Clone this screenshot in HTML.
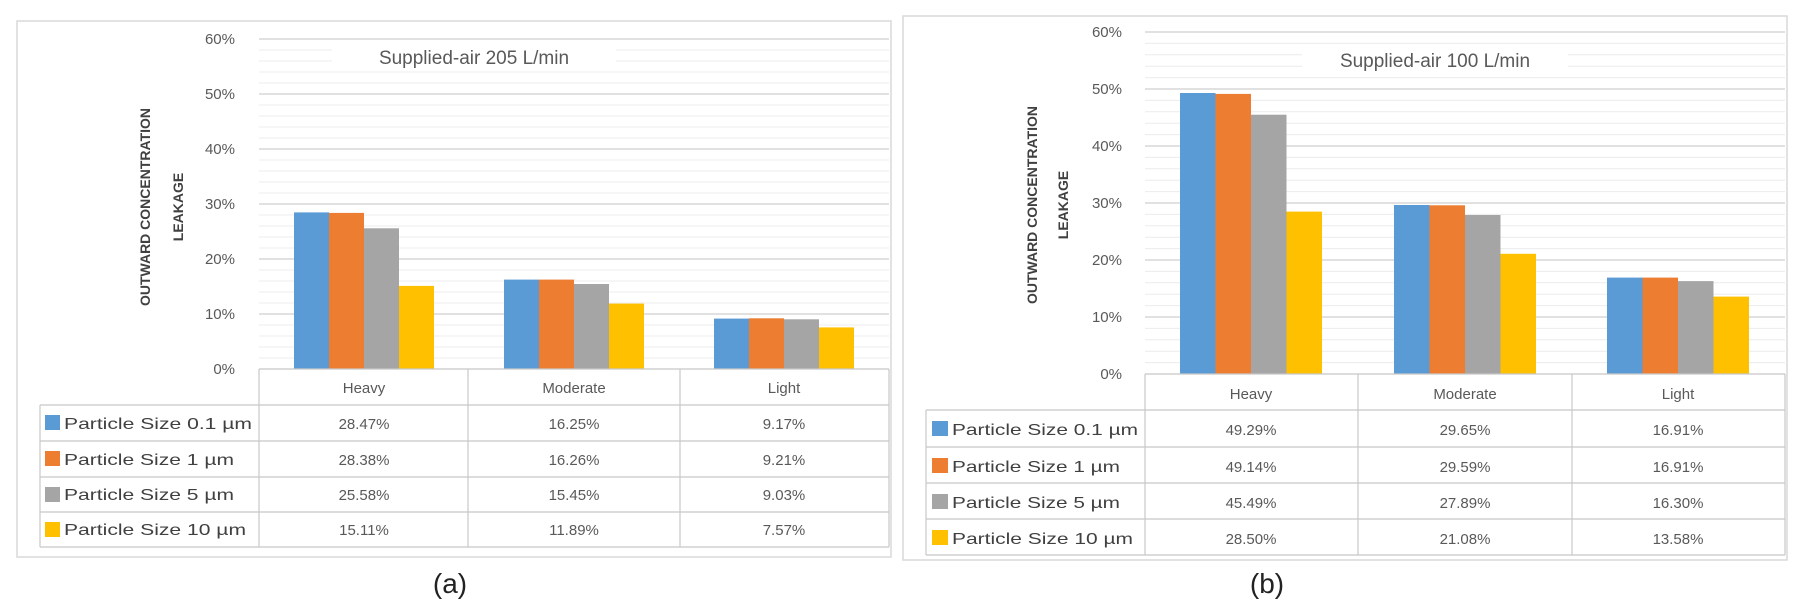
<!DOCTYPE html>
<html><head><meta charset="utf-8"><style>
html,body{margin:0;padding:0;background:#fff}
svg{display:block}
text{font-family:"Liberation Sans",sans-serif;fill:#595959}
.yl{font-size:15px;text-anchor:end}
.tv{font-size:15px;text-anchor:middle}
.lg{font-size:16px;fill:#404040}
.at{font-size:14px;font-weight:bold;text-anchor:middle;fill:#404040}
.tt{font-size:19px;text-anchor:middle}
.cap{font-size:28px;text-anchor:middle;fill:#222}
</style></head><body>
<svg width="1800" height="612" viewBox="0 0 1800 612" xmlns="http://www.w3.org/2000/svg">
<rect x="17" y="21" width="874" height="536" fill="none" stroke="#d9d9d9" stroke-width="1.5"/>
<rect x="903" y="16" width="884" height="544" fill="none" stroke="#d9d9d9" stroke-width="1.5"/>

<g id="L">
<!-- minor grid left: 0% at 369, 5.5px per % -->
<g stroke="#ececec" stroke-width="1">
<line x1="259" x2="889" y1="358" y2="358"/><line x1="259" x2="889" y1="347" y2="347"/><line x1="259" x2="889" y1="336" y2="336"/><line x1="259" x2="889" y1="325" y2="325"/>
<line x1="259" x2="889" y1="303" y2="303"/><line x1="259" x2="889" y1="292" y2="292"/><line x1="259" x2="889" y1="281" y2="281"/><line x1="259" x2="889" y1="270" y2="270"/>
<line x1="259" x2="889" y1="248" y2="248"/><line x1="259" x2="889" y1="237" y2="237"/><line x1="259" x2="889" y1="226" y2="226"/><line x1="259" x2="889" y1="215" y2="215"/>
<line x1="259" x2="889" y1="193" y2="193"/><line x1="259" x2="889" y1="182" y2="182"/><line x1="259" x2="889" y1="171" y2="171"/><line x1="259" x2="889" y1="160" y2="160"/>
<line x1="259" x2="889" y1="138" y2="138"/><line x1="259" x2="889" y1="127" y2="127"/><line x1="259" x2="889" y1="116" y2="116"/><line x1="259" x2="889" y1="105" y2="105"/>
<line x1="259" x2="889" y1="83" y2="83"/><line x1="259" x2="889" y1="72" y2="72"/><line x1="259" x2="889" y1="61" y2="61"/><line x1="259" x2="889" y1="50" y2="50"/>
</g>
<g stroke="#cfcfcf" stroke-width="1.3">
<line x1="259" x2="889" y1="39" y2="39"/><line x1="259" x2="889" y1="94" y2="94"/><line x1="259" x2="889" y1="149" y2="149"/><line x1="259" x2="889" y1="204" y2="204"/><line x1="259" x2="889" y1="259" y2="259"/><line x1="259" x2="889" y1="314" y2="314"/>
</g>
<rect x="332" y="43" width="284" height="28" fill="#fff"/>
<text class="tt" x="474" y="64">Supplied-air 205 L/min</text>
<g class="yl">
<text class="yl" x="235" y="44">60%</text><text class="yl" x="235" y="99">50%</text><text class="yl" x="235" y="154">40%</text><text class="yl" x="235" y="209">30%</text><text class="yl" x="235" y="264">20%</text><text class="yl" x="235" y="319">10%</text><text class="yl" x="235" y="374">0%</text>
</g>
<text class="at" transform="translate(150,207) rotate(-90)">OUTWARD CONCENTRATION</text>
<text class="at" transform="translate(183,207) rotate(-90)">LEAKAGE</text>
<!-- bars -->
<rect x="294" y="212.4" width="35" height="156.6" fill="#5b9bd5"/>
<rect x="329" y="212.9" width="35" height="156.1" fill="#ed7d31"/>
<rect x="364" y="228.3" width="35" height="140.7" fill="#a5a5a5"/>
<rect x="399" y="285.9" width="35" height="83.1" fill="#ffc000"/>
<rect x="504" y="279.6" width="35" height="89.4" fill="#5b9bd5"/>
<rect x="539" y="279.6" width="35" height="89.4" fill="#ed7d31"/>
<rect x="574" y="284" width="35" height="85" fill="#a5a5a5"/>
<rect x="609" y="303.6" width="35" height="65.4" fill="#ffc000"/>
<rect x="714" y="318.6" width="35" height="50.4" fill="#5b9bd5"/>
<rect x="749" y="318.3" width="35" height="50.7" fill="#ed7d31"/>
<rect x="784" y="319.3" width="35" height="49.7" fill="#a5a5a5"/>
<rect x="819" y="327.4" width="35" height="41.6" fill="#ffc000"/>
<!-- table -->
<g stroke="#c8c8c8" stroke-width="1.2" fill="none">
<line x1="259" x2="889" y1="369" y2="369"/>
<line x1="40" x2="889" y1="405" y2="405"/><line x1="40" x2="889" y1="441" y2="441"/><line x1="40" x2="889" y1="477" y2="477"/><line x1="40" x2="889" y1="512" y2="512"/><line x1="40" x2="889" y1="547" y2="547"/>
<line x1="40" x2="40" y1="405" y2="547"/><line x1="259" x2="259" y1="369" y2="547"/><line x1="468" x2="468" y1="369" y2="547"/><line x1="680" x2="680" y1="369" y2="547"/><line x1="889" x2="889" y1="369" y2="547"/>
</g>
<text class="tv" x="364" y="393">Heavy</text><text class="tv" x="574" y="393">Moderate</text><text class="tv" x="784" y="393">Light</text>
<rect x="45" y="415" width="15" height="15" fill="#5b9bd5"/><rect x="45" y="451" width="15" height="15" fill="#ed7d31"/><rect x="45" y="487" width="15" height="15" fill="#a5a5a5"/><rect x="45" y="522" width="15" height="15" fill="#ffc000"/>
<text class="lg" x="64" y="429" textLength="188" lengthAdjust="spacingAndGlyphs">Particle Size 0.1 µm</text>
<text class="lg" x="64" y="465" textLength="170" lengthAdjust="spacingAndGlyphs">Particle Size 1 µm</text>
<text class="lg" x="64" y="500" textLength="170" lengthAdjust="spacingAndGlyphs">Particle Size 5 µm</text>
<text class="lg" x="64" y="535" textLength="182" lengthAdjust="spacingAndGlyphs">Particle Size 10 µm</text>
<text class="tv" x="364" y="429">28.47%</text><text class="tv" x="574" y="429">16.25%</text><text class="tv" x="784" y="429">9.17%</text>
<text class="tv" x="364" y="465">28.38%</text><text class="tv" x="574" y="465">16.26%</text><text class="tv" x="784" y="465">9.21%</text>
<text class="tv" x="364" y="500">25.58%</text><text class="tv" x="574" y="500">15.45%</text><text class="tv" x="784" y="500">9.03%</text>
<text class="tv" x="364" y="535">15.11%</text><text class="tv" x="574" y="535">11.89%</text><text class="tv" x="784" y="535">7.57%</text>
</g>
<text class="cap" x="450" y="593">(a)</text>

<g id="R">
<!-- 0% at 374, 5.7 px per % -->
<g stroke="#ececec" stroke-width="1">
<line x1="1145" x2="1785" y1="362.6" y2="362.6"/><line x1="1145" x2="1785" y1="351.2" y2="351.2"/><line x1="1145" x2="1785" y1="339.8" y2="339.8"/><line x1="1145" x2="1785" y1="328.4" y2="328.4"/>
<line x1="1145" x2="1785" y1="305.6" y2="305.6"/><line x1="1145" x2="1785" y1="294.2" y2="294.2"/><line x1="1145" x2="1785" y1="282.8" y2="282.8"/><line x1="1145" x2="1785" y1="271.4" y2="271.4"/>
<line x1="1145" x2="1785" y1="248.6" y2="248.6"/><line x1="1145" x2="1785" y1="237.2" y2="237.2"/><line x1="1145" x2="1785" y1="225.8" y2="225.8"/><line x1="1145" x2="1785" y1="214.4" y2="214.4"/>
<line x1="1145" x2="1785" y1="191.6" y2="191.6"/><line x1="1145" x2="1785" y1="180.2" y2="180.2"/><line x1="1145" x2="1785" y1="168.8" y2="168.8"/><line x1="1145" x2="1785" y1="157.4" y2="157.4"/>
<line x1="1145" x2="1785" y1="134.6" y2="134.6"/><line x1="1145" x2="1785" y1="123.2" y2="123.2"/><line x1="1145" x2="1785" y1="111.8" y2="111.8"/><line x1="1145" x2="1785" y1="100.4" y2="100.4"/>
<line x1="1145" x2="1785" y1="77.6" y2="77.6"/><line x1="1145" x2="1785" y1="66.2" y2="66.2"/><line x1="1145" x2="1785" y1="54.8" y2="54.8"/><line x1="1145" x2="1785" y1="43.4" y2="43.4"/>
</g>
<g stroke="#cfcfcf" stroke-width="1.3">
<line x1="1145" x2="1785" y1="32" y2="32"/><line x1="1145" x2="1785" y1="89" y2="89"/><line x1="1145" x2="1785" y1="146" y2="146"/><line x1="1145" x2="1785" y1="203" y2="203"/><line x1="1145" x2="1785" y1="260" y2="260"/><line x1="1145" x2="1785" y1="317" y2="317"/>
</g>
<rect x="1302" y="46" width="266" height="28" fill="#fff"/>
<text class="tt" x="1435" y="67">Supplied-air 100 L/min</text>
<text class="yl" x="1122" y="37">60%</text><text class="yl" x="1122" y="94">50%</text><text class="yl" x="1122" y="151">40%</text><text class="yl" x="1122" y="208">30%</text><text class="yl" x="1122" y="265">20%</text><text class="yl" x="1122" y="322">10%</text><text class="yl" x="1122" y="379">0%</text>
<text class="at" transform="translate(1037,205) rotate(-90)">OUTWARD CONCENTRATION</text>
<text class="at" transform="translate(1068,205) rotate(-90)">LEAKAGE</text>
<rect x="1180" y="93.0" width="35.5" height="281" fill="#5b9bd5"/>
<rect x="1215.5" y="93.9" width="35.5" height="280.1" fill="#ed7d31"/>
<rect x="1251" y="114.7" width="35.5" height="259.3" fill="#a5a5a5"/>
<rect x="1286.5" y="211.6" width="35.5" height="162.4" fill="#ffc000"/>
<rect x="1394" y="205.0" width="35.5" height="169" fill="#5b9bd5"/>
<rect x="1429.5" y="205.3" width="35.5" height="168.7" fill="#ed7d31"/>
<rect x="1465" y="215.0" width="35.5" height="159" fill="#a5a5a5"/>
<rect x="1500.5" y="253.8" width="35.5" height="120.2" fill="#ffc000"/>
<rect x="1607" y="277.6" width="35.5" height="96.4" fill="#5b9bd5"/>
<rect x="1642.5" y="277.6" width="35.5" height="96.4" fill="#ed7d31"/>
<rect x="1678" y="281.1" width="35.5" height="92.9" fill="#a5a5a5"/>
<rect x="1713.5" y="296.6" width="35.5" height="77.4" fill="#ffc000"/>
<g stroke="#c8c8c8" stroke-width="1.2" fill="none">
<line x1="1145" x2="1785" y1="374" y2="374"/>
<line x1="926" x2="1785" y1="410" y2="410"/><line x1="926" x2="1785" y1="447" y2="447"/><line x1="926" x2="1785" y1="483" y2="483"/><line x1="926" x2="1785" y1="519" y2="519"/><line x1="926" x2="1785" y1="555" y2="555"/>
<line x1="926" x2="926" y1="410" y2="555"/><line x1="1145" x2="1145" y1="374" y2="555"/><line x1="1358" x2="1358" y1="374" y2="555"/><line x1="1572" x2="1572" y1="374" y2="555"/><line x1="1785" x2="1785" y1="374" y2="555"/>
</g>
<text class="tv" x="1251" y="399">Heavy</text><text class="tv" x="1465" y="399">Moderate</text><text class="tv" x="1678" y="399">Light</text>
<rect x="932" y="421" width="16" height="15" fill="#5b9bd5"/><rect x="932" y="458" width="16" height="15" fill="#ed7d31"/><rect x="932" y="494" width="16" height="15" fill="#a5a5a5"/><rect x="932" y="530" width="16" height="15" fill="#ffc000"/>
<text class="lg" x="952" y="435" textLength="186" lengthAdjust="spacingAndGlyphs">Particle Size 0.1 µm</text>
<text class="lg" x="952" y="472" textLength="168" lengthAdjust="spacingAndGlyphs">Particle Size 1 µm</text>
<text class="lg" x="952" y="508" textLength="168" lengthAdjust="spacingAndGlyphs">Particle Size 5 µm</text>
<text class="lg" x="952" y="544" textLength="181" lengthAdjust="spacingAndGlyphs">Particle Size 10 µm</text>
<text class="tv" x="1251" y="435">49.29%</text><text class="tv" x="1465" y="435">29.65%</text><text class="tv" x="1678" y="435">16.91%</text>
<text class="tv" x="1251" y="472">49.14%</text><text class="tv" x="1465" y="472">29.59%</text><text class="tv" x="1678" y="472">16.91%</text>
<text class="tv" x="1251" y="508">45.49%</text><text class="tv" x="1465" y="508">27.89%</text><text class="tv" x="1678" y="508">16.30%</text>
<text class="tv" x="1251" y="544">28.50%</text><text class="tv" x="1465" y="544">21.08%</text><text class="tv" x="1678" y="544">13.58%</text>
</g>
<text class="cap" x="1267" y="593">(b)</text>
</svg>
</body></html>
